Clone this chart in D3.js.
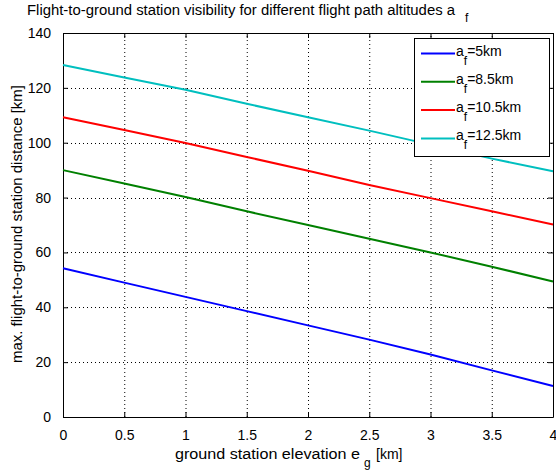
<!DOCTYPE html>
<html>
<head>
<meta charset="utf-8">
<script src="https://cdn.jsdelivr.net/npm/d3@7.9.0/dist/d3.min.js"></script>
<style>
  body { margin: 0; background: #fff; }
  svg text { font-family: "Liberation Sans", Arial, sans-serif; fill: #000; }
</style>
</head>
<body>
<svg id="chart" width="556" height="470"></svg>
<script>
// ground station elevation [km]
const elevations = [0, 0.5, 1, 1.5, 2, 2.5, 3, 3.5, 4];

// max. flight-to-ground station distance [km]
const dist5 = [54.2, 49.0, 43.8, 38.6, 33.4, 28.2, 22.8, 17.0, 11.3];
const dist85 = [90.0, 85.1, 80.2, 75.0, 70.0, 65.0, 60.0, 54.8, 49.4];
const dist105 = [109.3, 104.6, 99.9, 94.8, 89.8, 84.6, 79.8, 75.0, 70.2];
const dist125 = [128.3, 123.8, 119.3, 114.2, 109.3, 104.4, 99.3, 94.2, 89.6];

const altitudes = ['5', '8.5', '10.5', '12.5'];
const colors = ['#0000ff', '#008000', '#ff0000', '#00bfbf'];

const xTicks = [0, 0.5, 1, 1.5, 2, 2.5, 3, 3.5, 4];
const yTicks = [0, 20, 40, 60, 80, 100, 120, 140];

const series = [dist5, dist85, dist105, dist125];

const margin = { left: 63, right: 3, top: 33, bottom: 53 };
const W = 556, H = 470;

const svg = d3.select('#chart');

let x = d3.scaleLinear().domain([0, 4]).range([margin.left, W - margin.right]);
let y = d3.scaleLinear().domain([0, 140]).range([H - margin.bottom, margin.top]);

// dotted grid
let grid = svg.append('g');
xTicks.slice(1, -1).forEach(t => {
  grid.append('line')
    .attr('x1', x(t) + 0.5).attr('x2', x(t) + 0.5)
    .attr('y1', y(0)).attr('y2', y(140))
    .attr('stroke', '#000').attr('stroke-width', 1).attr('stroke-dasharray', '1,3');
});
yTicks.slice(1, -1).forEach(t => {
  grid.append('line')
    .attr('x1', x(0)).attr('x2', x(4))
    .attr('y1', Math.round(y(t)) + 0.5).attr('y2', Math.round(y(t)) + 0.5)
    .attr('stroke', '#000').attr('stroke-width', 1).attr('stroke-dasharray', '1,3');
});

// axes with inward ticks on all four sides
svg.append('g')
  .attr('transform', `translate(0,${y(0)})`)
  .call(d3.axisBottom(x).tickValues(xTicks).tickSizeInner(-5).tickSizeOuter(0).tickPadding(13)
    .tickFormat(d3.format('')));
svg.append('g')
  .attr('transform', `translate(0,${y(140)})`)
  .call(d3.axisTop(x).tickValues(xTicks).tickSizeInner(-5).tickSizeOuter(0).tickFormat(''));
svg.append('g')
  .attr('transform', `translate(${x(0)},0)`)
  .call(d3.axisLeft(y).tickValues(yTicks).tickSizeInner(-5).tickSizeOuter(0).tickPadding(12));
svg.append('g')
  .attr('transform', `translate(${x(4)},0)`)
  .call(d3.axisRight(y).tickValues(yTicks).tickSizeInner(-5).tickSizeOuter(0).tickFormat(''));

svg.selectAll('.domain').attr('stroke', '#000');
svg.selectAll('.tick line').attr('stroke', '#000');
svg.selectAll('.tick text').attr('font-size', 14).attr('font-family', '"Liberation Sans", Arial, sans-serif');

// data lines
let line = d3.line()
  .x((d, i) => x(elevations[i]))
  .y(d => y(d));

series.forEach((s, i) => {
  svg.append('path')
    .datum(s)
    .attr('d', line)
    .attr('fill', 'none')
    .attr('stroke', colors[i])
    .attr('stroke-width', 2);
});

// legend
let lg = svg.append('g').attr('transform', 'translate(414,38)');
lg.append('rect')
  .attr('x', 0.5).attr('y', 0.5).attr('width', 135).attr('height', 118)
  .attr('fill', '#fff').attr('stroke', '#000');
altitudes.forEach((a, i) => {
  let yy = 15.5 + i * 28.3;
  lg.append('line')
    .attr('x1', 7).attr('x2', 41).attr('y1', yy).attr('y2', yy)
    .attr('stroke', colors[i]).attr('stroke-width', 2);
  let t = lg.append('text').attr('x', 42).attr('y', yy + 2).attr('font-size', 14);
  t.append('tspan').text('a');
  t.append('tspan').attr('dy', 9).attr('font-size', 12).text('f');
  t.append('tspan').attr('dy', -9).text(`=${a}km`);
});

// title
let title = svg.append('text').attr('x', 27).attr('y', 15).attr('font-size', 14);
title.append('tspan').attr('textLength', 428).attr('lengthAdjust', 'spacingAndGlyphs')
  .text('Flight-to-ground station visibility for different flight path altitudes a');
title.append('tspan').attr('x', 465).attr('y', 22).attr('font-size', 12).text('f');

// x label
let xl = svg.append('text').attr('x', 175).attr('y', 459).attr('font-size', 14);
xl.append('tspan').attr('textLength', 185).attr('lengthAdjust', 'spacingAndGlyphs')
  .text('ground station elevation e');
xl.append('tspan').attr('x', 364).attr('y', 467).attr('font-size', 12).text('g');
xl.append('tspan').attr('x', 376).attr('y', 459).text('[km]');

// y label
svg.append('text')
  .attr('transform', `translate(22,${(85 + 363) / 2}) rotate(-90)`)
  .attr('text-anchor', 'middle')
  .attr('font-size', 14)
  .attr('textLength', 278).attr('lengthAdjust', 'spacingAndGlyphs')
  .text('max. flight-to-ground station distance [km]');
</script>
</body>
</html>
